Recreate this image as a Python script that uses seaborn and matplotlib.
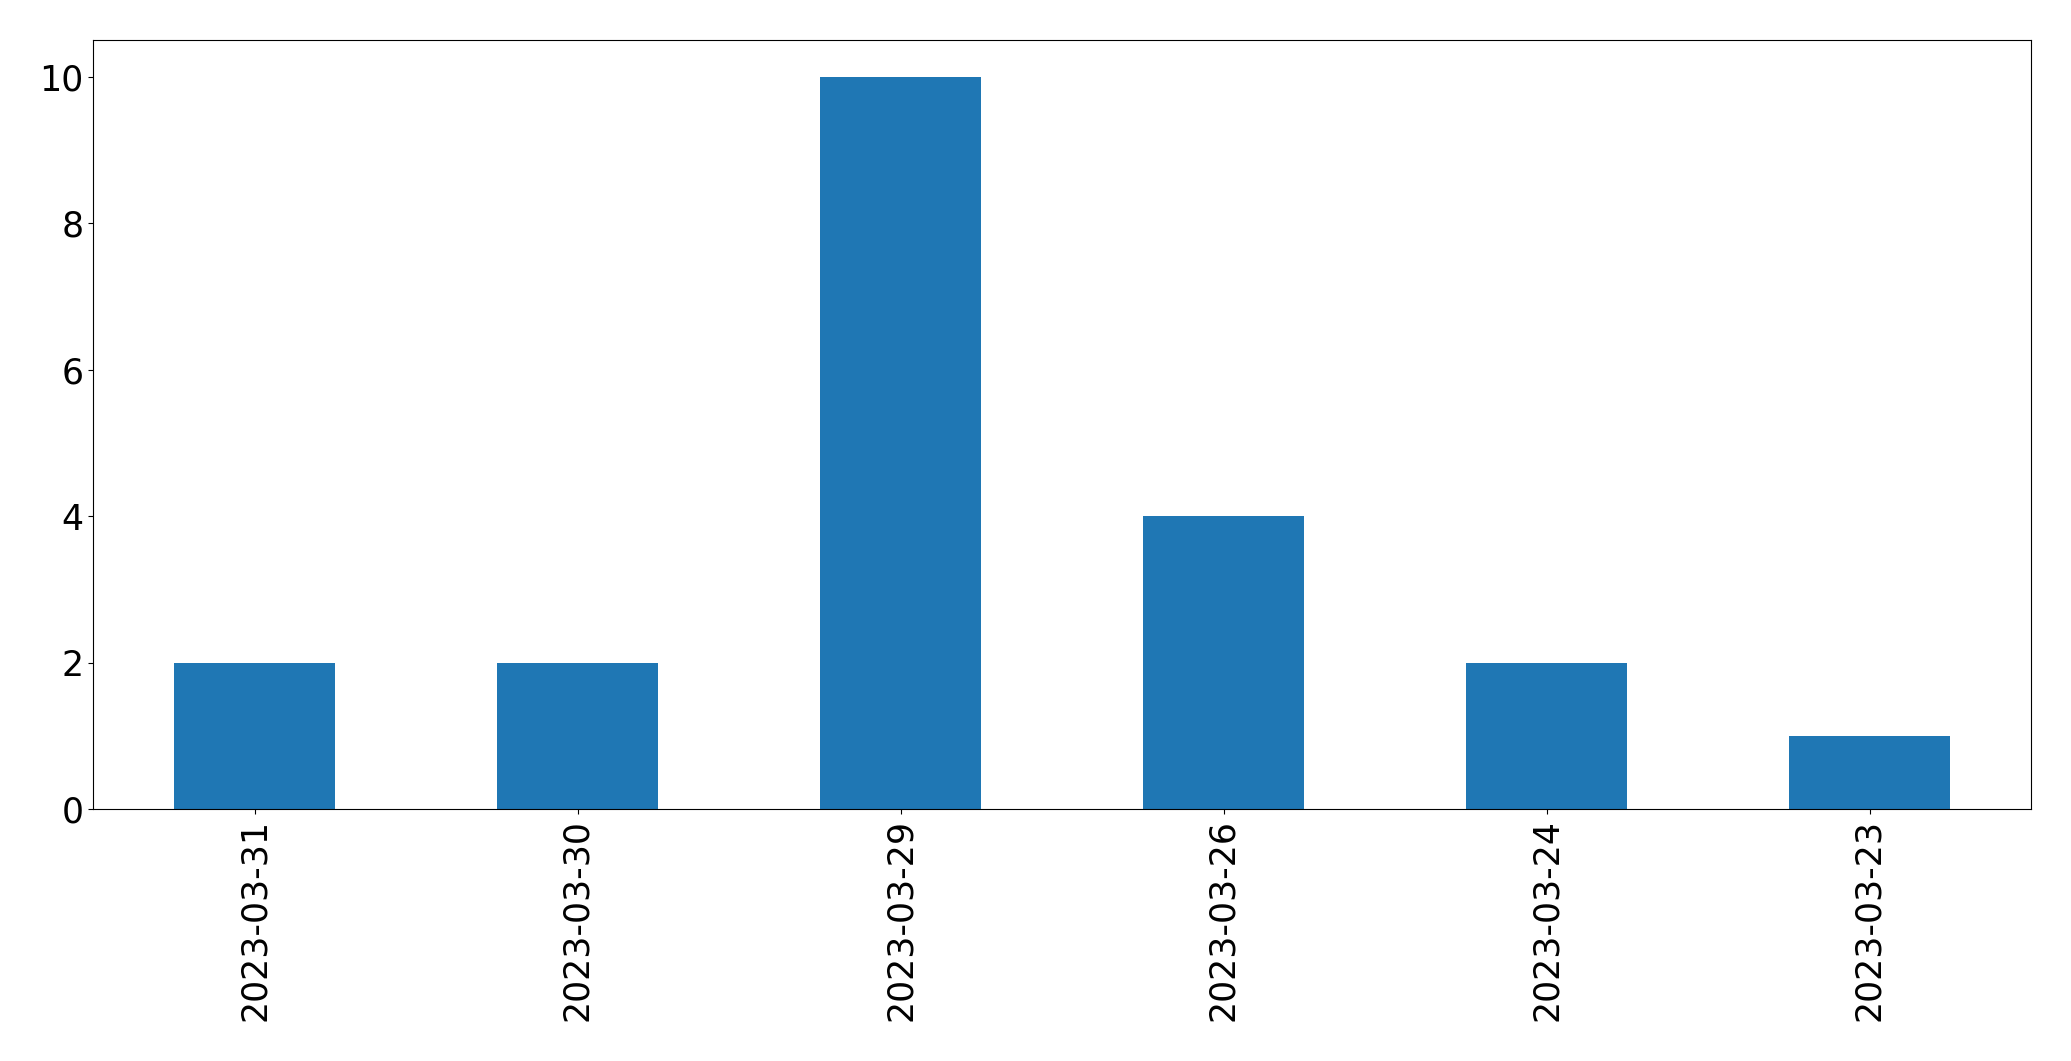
import matplotlib
matplotlib.use("Agg")
import matplotlib.pyplot as plt
import seaborn as sns
import pandas as pd

dates = ["2023-03-31", "2023-03-30", "2023-03-29", "2023-03-26", "2023-03-24", "2023-03-23"]
counts = [2, 2, 10, 4, 2, 1]

df = pd.DataFrame({"date": dates, "count": counts})

fig = plt.figure(figsize=(20.71, 10.61), dpi=100)
ax = fig.add_axes([93 / 2071, 1 - 809 / 1061, (2031 - 93) / 2071, (809 - 40) / 1061])
sns.barplot(data=df, x="date", y="count", order=dates, color="#1f77b4",
            saturation=1, width=0.5, ax=ax, errorbar=None, linewidth=0)
ax.set_xlim(-0.5, len(dates) - 0.5)
ax.set_ylim(0, 10.5)
ax.set_yticks([0, 2, 4, 6, 8, 10])
ax.set_xlabel("")
ax.set_ylabel("")
ax.tick_params(axis="both", labelsize=25)
ax.tick_params(axis="x", labelrotation=90)
fig.savefig("out.png", dpi=100)
